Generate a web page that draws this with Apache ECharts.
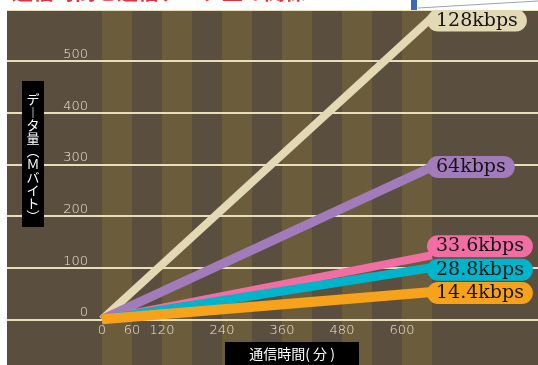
<!DOCTYPE html>
<html>
<head>
<meta charset="utf-8">
<script src="https://cdn.jsdelivr.net/npm/echarts@6/dist/echarts.min.js"></script>
<style>
html,body{margin:0;padding:0;background:#fff;}
#chart{width:538px;height:365px;}
</style>
</head>
<body>
<div id="chart"></div>
<script>
// ---- data ----
const seriesNames = ['128kbps', '64kbps', '33.6kbps', '28.8kbps', '14.4kbps'];
const timeMinutes = [0, 660];
const data128 = [0, 584];
const data64 = [0, 295];
const data336 = [0, 124];
const data288 = [0, 100];
const data144 = [0, 53];
const xTickLabels = [0, 60, 120, 240, 360, 480, 600];
const yTickLabels = [0, 100, 200, 300, 400, 500];
const bandStarts = [0, 120, 240, 360, 480, 600];
const bandWidth = 60;
const yTitleVertical = ['デ', '︱', 'タ', '量', '︵', 'Ｍ', 'バ', 'イ', 'ト', '︶'];
const xTitle = '通信時間( 分 )';
const pageTitle = '通信時間と通信データ量の関係';

// ---- styles ----
const lineColors = ['#e4d9b5', '#a27bbb', '#f06ea3', '#00b5cb', '#f7a21b'];
const lineWidths = [8, 9, 8, 9, 10];
const labelOffsets = [[0, 3], [0, 0], [0, -9], [0, 2], [0, 1]];
const allData = [data128, data64, data336, data288, data144];

const chart = echarts.init(document.getElementById('chart'), null, {renderer: 'canvas'});

const lineSeries = seriesNames.map((name, i) => ({
  name: name,
  type: 'line',
  z: 3,
  data: timeMinutes.map((t, k) => [t, allData[i][k]]),
  showSymbol: false,
  symbol: 'none',
  lineStyle: {color: lineColors[i], width: lineWidths[i], cap: 'butt'},
  itemStyle: {color: lineColors[i]},
  emphasis: {disabled: true},
  endLabel: {
    show: true,
    formatter: '{a}',
    distance: -5,
    offset: labelOffsets[i],
    backgroundColor: lineColors[i],
    borderRadius: 11,
    padding: [2, 9, 2, 9],
    color: '#151515',
    fontFamily: 'DejaVu Serif',
    fontSize: 19,
    lineHeight: 18
  }
}));

const bandSeries = {
  type: 'line',
  z: 1,
  data: [],
  silent: true,
  markArea: {
    silent: true,
    itemStyle: {color: '#6b5d3c'},
    data: bandStarts.map(s => [{xAxis: s}, {xAxis: s + bandWidth}])
  }
};

const axisLabelStyle = {
  color: '#ebe5d2',
  fontFamily: 'DejaVu Sans',
  fontWeight: 200,
  fontSize: 13
};

const option = {
  animation: false,
  backgroundColor: '#ffffff',
  grid: {
    show: true,
    backgroundColor: '#5a4f3f',
    borderWidth: 0,
    left: 7, right: 0, top: 9.3, bottom: -6,
    containLabel: false,
    outerBoundsMode: 'none'
  },
  xAxis: {
    type: 'value',
    min: -190, max: 872,
    z: 2,
    offset: -51.7,
    axisLine: {show: false, onZero: false},
    axisTick: {show: false},
    splitLine: {show: false},
    axisLabel: Object.assign({customValues: xTickLabels, margin: 5}, axisLabelStyle)
  },
  yAxis: {
    type: 'value',
    min: -100, max: 600, interval: 100,
    z: 2,
    offset: -95,
    axisLine: {show: false, onZero: false},
    axisTick: {show: false},
    splitLine: {show: true, lineStyle: {color: '#e8dfb8', width: 2}},
    axisLabel: Object.assign({
      formatter: v => (yTickLabels.indexOf(v) >= 0 ? String(v) : ''),
      margin: 14,
      verticalAlign: 'bottom'
    }, axisLabelStyle)
  },
  graphic: [
    {type: 'rect', z: 10, shape: {x: 0, y: 0, width: 538, height: 10}, style: {fill: '#ffffff'}, silent: true},
    {type: 'text', z: 11, x: 12, y: 2, style: {text: pageTitle, fill: '#e0313c', font: 'bold 21px "Noto Sans CJK JP"', verticalAlign: 'bottom'}, silent: true},
    {type: 'rect', z: 11, shape: {x: 411, y: 0, width: 6, height: 10}, style: {fill: '#3d68b8'}, silent: true},
    {type: 'line', z: 11, shape: {x1: 418, y1: 8, x2: 538, y2: 1}, style: {stroke: '#9aa3b3', lineWidth: 1}, silent: true},
    {type: 'rect', z: 10, shape: {x: 22, y: 81, width: 22, height: 146}, style: {fill: '#000000'}, silent: true},
    {type: 'text', z: 11, x: 33, y: 93, style: {text: yTitleVertical.join('\n'), fill: '#ffffff', font: '13px "Noto Sans CJK JP"', lineHeight: 13, align: 'center', verticalAlign: 'top'}, silent: true},
    {type: 'rect', z: 10, shape: {x: 225, y: 342, width: 134, height: 24}, style: {fill: '#000000'}, silent: true},
    {type: 'text', z: 11, x: 292, y: 354, style: {text: xTitle, fill: '#ffffff', font: '14px "Noto Sans CJK JP"', align: 'center', verticalAlign: 'middle'}, silent: true}
  ],
  series: [bandSeries].concat(lineSeries)
};

chart.setOption(option);
</script>
</body>
</html>
